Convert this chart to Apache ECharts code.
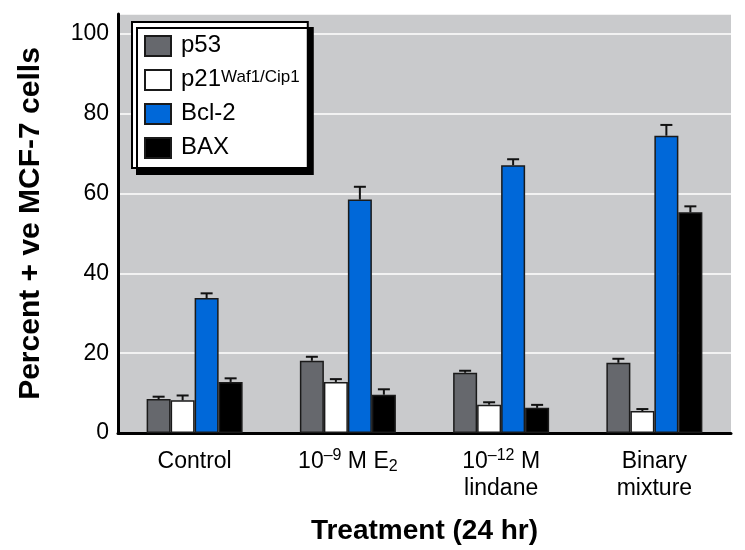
<!DOCTYPE html>
<html>
<head>
<meta charset="utf-8">
<script src="https://cdn.jsdelivr.net/npm/echarts@6/dist/echarts.min.js"></script>
<style>html,body{margin:0;padding:0;background:#fff;}#c{width:745px;height:550px;}</style>
</head>
<body>
<div id="c"></div>
<script>
// ---- data ----
const categories = ['Control', '10–9 M E2', '10–12 M lindane', 'Binary mixture'];
const categoryLabels = [
  '{n|Control}',
  '{n|10}{sup|–9}{n| M E}{sub|2}',
  '{n|10}{sup|–12}{n| M}\n{n|lindane}',
  '{n|Binary}\n{n|mixture}'
];
const seriesNames = ['p53', 'p21Waf1/Cip1', 'Bcl-2', 'BAX'];
const p53 = [8.5, 18.1, 15.1, 17.6];
const p53Err = [0.6, 1.0, 0.5, 1.0];
const p21 = [8.2, 12.8, 7.1, 5.5];
const p21Err = [1.2, 0.7, 0.6, 0.5];
const bcl2 = [33.8, 58.5, 67.1, 74.5];
const bcl2Err = [1.2, 3.2, 1.5, 2.7];
const bax = [12.8, 9.6, 6.3, 55.3];
const baxErr = [0.9, 1.35, 0.75, 1.5];
const yTicks = [0, 20, 40, 60, 80, 100];

// ---- styling ----
const FONT = "'Liberation Sans', Arial, sans-serif";
const colors = ['#66686d', '#ffffff', '#0068d9', '#000000'];
const values = [p53, p21, bcl2, bax];
const errs = [p53Err, p21Err, bcl2Err, baxErr];
const BAR_W = 24;

const chart = echarts.init(document.getElementById('c'), null, { renderer: 'canvas' });

const barSeries = seriesNames.map((name, i) => ({
  name: name,
  type: 'bar',
  data: values[i],
  barWidth: BAR_W,
  barGap: '0%',
  itemStyle: { color: colors[i], borderColor: '#1a1a1a', borderWidth: 1.5 },
  z: 3
}));

const errSeries = seriesNames.map((name, i) => ({
  name: 'err_' + i,
  type: 'custom',
  z: 4,
  silent: true,
  data: categories.map((c, j) => [j, values[i][j], errs[i][j]]),
  renderItem: function (params, api) {
    const c = api.value(0), v = api.value(1), e = api.value(2);
    const base = api.coord([c, v]);
    const top = api.coord([c, v + e]);
    const x = base[0] + (i - 1.5) * BAR_W;
    const st = { stroke: '#111', lineWidth: 2 };
    return {
      type: 'group',
      children: [
        { type: 'line', shape: { x1: x, y1: base[1], x2: x, y2: top[1] }, style: st },
        { type: 'line', shape: { x1: x - 6, y1: top[1], x2: x + 6, y2: top[1] }, style: st }
      ]
    };
  }
}));

const option = {
  animation: false,
  backgroundColor: '#ffffff',
  grid: {
    left: 118, right: 14, top: 14, bottom: 115,
    show: true, backgroundColor: '#c9cacc', borderWidth: 0
  },
  legend: {
    data: seriesNames,
    orient: 'vertical',
    left: 132, top: 22,
    padding: [11, 8, 9, 12],
    itemWidth: 26, itemHeight: 20, itemGap: 10,
    icon: 'rect',
    backgroundColor: '#ffffff',
    borderColor: '#000', borderWidth: 2,
    shadowColor: '#000', shadowBlur: 0, shadowOffsetX: 5, shadowOffsetY: 6,
    formatter: function (name) {
      if (name === 'p21Waf1/Cip1') return '{n|p21}{sup|Waf1/Cip1}';
      return '{n|' + name + '}';
    },
    textStyle: {
      fontFamily: FONT, color: '#000', fontSize: 24, padding: [0, 0, 0, 5],
      rich: {
        n: { fontFamily: FONT, fontSize: 24, lineHeight: 22, verticalAlign: 'bottom' },
        sup: { fontFamily: FONT, fontSize: 17, lineHeight: 17, verticalAlign: 'top' }
      }
    }
  },
  xAxis: {
    type: 'category',
    data: categories,
    axisLine: { lineStyle: { color: '#000', width: 3 } },
    axisTick: { show: false },
    splitLine: { show: false },
    axisLabel: {
      interval: 0,
      margin: 15,
      formatter: function (v, idx) { return categoryLabels[idx]; },
      rich: {
        n: { fontFamily: FONT, fontSize: 23, color: '#000', lineHeight: 27 },
        sup: { fontFamily: FONT, fontSize: 16, color: '#000', lineHeight: 14, verticalAlign: 'top' },
        sub: { fontFamily: FONT, fontSize: 16, color: '#000', lineHeight: 14, verticalAlign: 'bottom' }
      }
    },
    name: 'Treatment (24 hr)',
    nameLocation: 'middle',
    nameGap: 84,
    nameTextStyle: { fontFamily: FONT, fontSize: 28, fontWeight: 'bold', color: '#000' }
  },
  yAxis: {
    type: 'value',
    min: 0, max: 105, interval: 20,
    axisLine: { show: true, lineStyle: { color: '#000', width: 3 } },
    axisTick: { show: false },
    splitLine: { show: true, lineStyle: { color: '#ffffff', width: 1.5 } },
    axisLabel: {
      margin: 9, fontFamily: FONT, fontSize: 23, color: '#000',
      showMaxLabel: false,
      formatter: function (v) { return yTicks.indexOf(v) >= 0 ? String(v) : ''; }
    },
    name: 'Percent + ve MCF-7 cells',
    nameLocation: 'middle',
    nameGap: 72,
    nameTextStyle: { fontFamily: FONT, fontSize: 30, fontWeight: 'bold', color: '#000' }
  },
  series: barSeries.concat(errSeries)
};
chart.setOption(option);
</script>
</body>
</html>
